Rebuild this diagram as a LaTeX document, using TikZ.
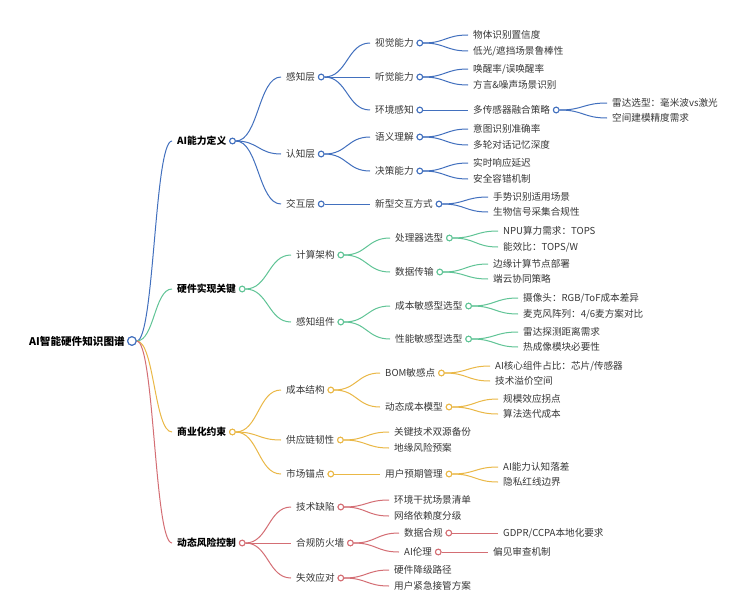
\documentclass[tikz,border=0pt]{standalone}
\usepackage{fontspec}
\setmainfont{Noto Sans CJK SC}
\usetikzlibrary{calc}
\definecolor{cblue}{RGB}{66,112,190}
\definecolor{cgreen}{RGB}{96,196,150}
\definecolor{cyellow}{RGB}{234,184,70}
\definecolor{cred}{RGB}{212,110,116}
\definecolor{txt}{RGB}{55,55,55}
\tikzset{
  lbl/.style={inner sep=0pt, font=\fontsize{9.6}{11}\selectfont, text=txt},
  lone/.style={inner sep=0pt, font=\fontsize{9.8}{11}\selectfont\bfseries, text=black},
  lroot/.style={inner sep=0pt, font=\fontsize{10.6}{12}\selectfont\bfseries, text=black},
  dot/.style={circle, draw=#1, fill=white, line width=1pt, inner sep=0pt, minimum size=5.6pt},
  rdot/.style={circle, draw=#1, fill=white, line width=1.1pt, inner sep=0pt, minimum size=8.5pt},
  wire/.style={draw=#1, line width=1pt},
}
\newcommand\mnode[5]{\node[#4, anchor=west] (#1) at (#2,#3) {#5};}
\newcommand\mcirc[2]{\node[dot=#2] (#1c) at ([xshift=6pt]#1.east) {};}
\newcommand\mlink[3]{\draw[wire=#1] let \p1=(#2c.east), \p2=([xshift=-5pt]#3.west) in (\p1) .. controls ({0.5*\x1+0.5*\x2},\y1) and ({0.5*\x1+0.5*\x2},\y2) .. (\p2);}
\begin{document}
\begin{tikzpicture}[x=1pt,y=-1pt]
\useasboundingbox (0,0) rectangle (749,602);
\fill[white] (0,0) rectangle (749,602);
% root
\mnode{R}{29}{341}{lroot}{AI智能硬件知识图谱}
% level 1
\mnode{A}{177}{141}{lone}{AI能力定义}
\mnode{B}{177}{289}{lone}{硬件实现关键}
\mnode{C}{177}{432}{lone}{商业化约束}
\mnode{D}{177}{543}{lone}{动态风险控制}
% blue
\mnode{A1}{286}{77}{lbl}{感知层}
\mnode{A2}{286}{154}{lbl}{认知层}
\mnode{A3}{286}{204}{lbl}{交互层}
\mnode{A11}{375}{43}{lbl}{视觉能力}
\mnode{A12}{375}{77}{lbl}{听觉能力}
\mnode{A13}{375}{110}{lbl}{环境感知}
\mnode{A111}{473}{35}{lbl}{物体识别置信度}
\mnode{A112}{473}{51}{lbl}{低光/遮挡场景鲁棒性}
\mnode{A121}{473}{69}{lbl}{唤醒率/误唤醒率}
\mnode{A122}{473}{85}{lbl}{方言\&噪声场景识别}
\mnode{A131}{473}{110}{lbl}{多传感器融合策略}
\mnode{A1311}{612}{103}{lbl}{雷达选型：毫米波vs激光}
\mnode{A1312}{612}{118}{lbl}{空间建模精度需求}
\mnode{A21}{375}{137}{lbl}{语义理解}
\mnode{A22}{375}{171}{lbl}{决策能力}
\mnode{A211}{473}{129}{lbl}{意图识别准确率}
\mnode{A212}{473}{145}{lbl}{多轮对话记忆深度}
\mnode{A221}{473}{163}{lbl}{实时响应延迟}
\mnode{A222}{473}{179}{lbl}{安全容错机制}
\mnode{A31}{375}{204}{lbl}{新型交互方式}
\mnode{A311}{493}{197}{lbl}{手势识别适用场景}
\mnode{A312}{493}{212}{lbl}{生物信号采集合规性}
% green
\mnode{B1}{296}{255}{lbl}{计算架构}
\mnode{B2}{296}{322}{lbl}{感知组件}
\mnode{B11}{395}{238}{lbl}{处理器选型}
\mnode{B12}{395}{272}{lbl}{数据传输}
\mnode{B111}{503}{231}{lbl}{NPU算力需求：TOPS}
\mnode{B112}{503}{247}{lbl}{能效比：TOPS/W}
\mnode{B121}{493}{264}{lbl}{边缘计算节点部署}
\mnode{B122}{493}{279}{lbl}{端云协同策略}
\mnode{B21}{395}{306}{lbl}{成本敏感型选型}
\mnode{B22}{395}{339}{lbl}{性能敏感型选型}
\mnode{B211}{523}{298}{lbl}{摄像头：RGB/ToF成本差异}
\mnode{B212}{523}{314}{lbl}{麦克风阵列：4/6麦方案对比}
\mnode{B221}{523}{332}{lbl}{雷达探测距离需求}
\mnode{B222}{523}{347}{lbl}{热成像模块必要性}
% yellow
\mnode{C1}{286}{390}{lbl}{成本结构}
\mnode{C2}{286}{440}{lbl}{供应链韧性}
\mnode{C3}{286}{474}{lbl}{市场锚点}
\mnode{C11}{385}{373}{lbl}{BOM敏感点}
\mnode{C12}{385}{407}{lbl}{动态成本模型}
\mnode{C111}{495}{366}{lbl}{AI核心组件占比：芯片/传感器}
\mnode{C112}{495}{381}{lbl}{技术溢价空间}
\mnode{C121}{503}{399}{lbl}{规模效应拐点}
\mnode{C122}{503}{414}{lbl}{算法迭代成本}
\mnode{C21}{394}{432}{lbl}{关键技术双源备份}
\mnode{C22}{394}{448}{lbl}{地缘风险预案}
\mnode{C31}{385}{474}{lbl}{用户预期管理}
\mnode{C311}{503}{467}{lbl}{AI能力认知落差}
\mnode{C312}{503}{482}{lbl}{隐私红线边界}
% red
\mnode{D1}{296}{507}{lbl}{技术缺陷}
\mnode{D2}{296}{543}{lbl}{合规防火墙}
\mnode{D3}{296}{578}{lbl}{失效应对}
\mnode{D11}{394}{500}{lbl}{环境干扰场景清单}
\mnode{D12}{394}{516}{lbl}{网络依赖度分级}
\mnode{D21}{404}{533}{lbl}{数据合规}
\mnode{D22}{404}{552}{lbl}{AI伦理}
\mnode{D211}{503}{533}{lbl}{GDPR/CCPA本地化要求}
\mnode{D221}{493}{552}{lbl}{偏见审查机制}
\mnode{D31}{394}{570}{lbl}{硬件降级路径}
\mnode{D32}{394}{586}{lbl}{用户紧急接管方案}
% circles
\node[rdot=cblue] (Rc) at ([xshift=7pt]R.east) {};
\mcirc{A}{cblue}\mcirc{A1}{cblue}\mcirc{A2}{cblue}\mcirc{A3}{cblue}
\mcirc{A11}{cblue}\mcirc{A12}{cblue}\mcirc{A13}{cblue}\mcirc{A131}{cblue}
\mcirc{A21}{cblue}\mcirc{A22}{cblue}\mcirc{A31}{cblue}
\mcirc{B}{cgreen}\mcirc{B1}{cgreen}\mcirc{B2}{cgreen}
\mcirc{B11}{cgreen}\mcirc{B12}{cgreen}\mcirc{B21}{cgreen}\mcirc{B22}{cgreen}
\mcirc{C}{cyellow}\mcirc{C1}{cyellow}\mcirc{C2}{cyellow}\mcirc{C3}{cyellow}
\mcirc{C11}{cyellow}\mcirc{C12}{cyellow}\mcirc{C31}{cyellow}
\mcirc{D}{cred}\mcirc{D1}{cred}\mcirc{D2}{cred}\mcirc{D3}{cred}
\mcirc{D21}{cred}\mcirc{D22}{cred}
% links
\mlink{cblue}{R}{A}\mlink{cgreen}{R}{B}\mlink{cyellow}{R}{C}\mlink{cred}{R}{D}
\mlink{cblue}{A}{A1}\mlink{cblue}{A}{A2}\mlink{cblue}{A}{A3}
\mlink{cblue}{A1}{A11}\mlink{cblue}{A1}{A12}\mlink{cblue}{A1}{A13}
\mlink{cblue}{A11}{A111}\mlink{cblue}{A11}{A112}
\mlink{cblue}{A12}{A121}\mlink{cblue}{A12}{A122}
\mlink{cblue}{A13}{A131}
\mlink{cblue}{A131}{A1311}\mlink{cblue}{A131}{A1312}
\mlink{cblue}{A2}{A21}\mlink{cblue}{A2}{A22}
\mlink{cblue}{A21}{A211}\mlink{cblue}{A21}{A212}
\mlink{cblue}{A22}{A221}\mlink{cblue}{A22}{A222}
\mlink{cblue}{A3}{A31}
\mlink{cblue}{A31}{A311}\mlink{cblue}{A31}{A312}
\mlink{cgreen}{B}{B1}\mlink{cgreen}{B}{B2}
\mlink{cgreen}{B1}{B11}\mlink{cgreen}{B1}{B12}
\mlink{cgreen}{B11}{B111}\mlink{cgreen}{B11}{B112}
\mlink{cgreen}{B12}{B121}\mlink{cgreen}{B12}{B122}
\mlink{cgreen}{B2}{B21}\mlink{cgreen}{B2}{B22}
\mlink{cgreen}{B21}{B211}\mlink{cgreen}{B21}{B212}
\mlink{cgreen}{B22}{B221}\mlink{cgreen}{B22}{B222}
\mlink{cyellow}{C}{C1}\mlink{cyellow}{C}{C2}\mlink{cyellow}{C}{C3}
\mlink{cyellow}{C1}{C11}\mlink{cyellow}{C1}{C12}
\mlink{cyellow}{C11}{C111}\mlink{cyellow}{C11}{C112}
\mlink{cyellow}{C12}{C121}\mlink{cyellow}{C12}{C122}
\mlink{cyellow}{C2}{C21}\mlink{cyellow}{C2}{C22}
\mlink{cyellow}{C3}{C31}
\mlink{cyellow}{C31}{C311}\mlink{cyellow}{C31}{C312}
\mlink{cred}{D}{D1}\mlink{cred}{D}{D2}\mlink{cred}{D}{D3}
\mlink{cred}{D1}{D11}\mlink{cred}{D1}{D12}
\mlink{cred}{D2}{D21}\mlink{cred}{D2}{D22}
\mlink{cred}{D21}{D211}\mlink{cred}{D22}{D221}
\mlink{cred}{D3}{D31}\mlink{cred}{D3}{D32}
% redraw circles on top
\node[rdot=cblue] at (Rc) {};
\foreach \n/\c in {A/cblue,A1/cblue,A2/cblue,A3/cblue,A11/cblue,A12/cblue,A13/cblue,A131/cblue,A21/cblue,A22/cblue,A31/cblue,B/cgreen,B1/cgreen,B2/cgreen,B11/cgreen,B12/cgreen,B21/cgreen,B22/cgreen,C/cyellow,C1/cyellow,C2/cyellow,C3/cyellow,C11/cyellow,C12/cyellow,C31/cyellow,D/cred,D1/cred,D2/cred,D3/cred,D21/cred,D22/cred}
  \node[dot=\c] at (\n c) {};
\end{tikzpicture}
\end{document}
